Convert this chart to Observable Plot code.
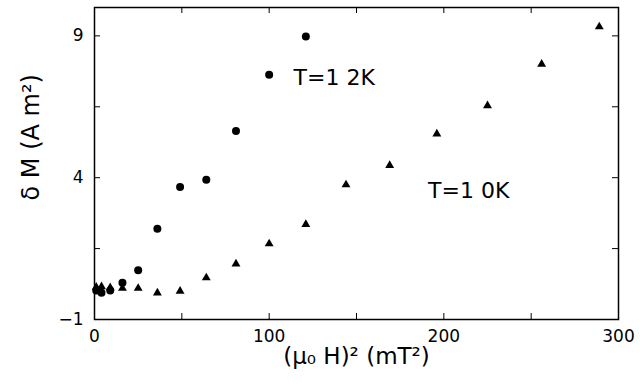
<!DOCTYPE html>
<html>
<head>
<meta charset="utf-8">
<script src="https://cdn.jsdelivr.net/npm/d3@7"></script>
<script src="https://cdn.jsdelivr.net/npm/@observablehq/plot@0.6"></script>
<style>
  html, body { margin: 0; padding: 0; background: #fff; }
  svg { display: block; }
</style>
</head>
<body>
<div id="chart"></div>
<script>
// T = 12 K series (circles)
const x12 = [1, 4, 9, 16, 25, 36, 49, 64, 81, 100, 121];
const y12 = [0.02, -0.06, 0.02, 0.3, 0.74, 2.2, 3.67, 3.93, 5.65, 7.63, 8.98];
// T = 10 K series (triangles)
const x10 = [1, 4, 9, 16, 25, 36, 49, 64, 81, 100, 121, 144, 169, 196, 225, 256, 289];
const y10 = [0.14, 0.16, 0.12, 0.1, 0.1, -0.06, 0.0, 0.47, 0.96, 1.67, 2.35, 3.75, 4.43, 5.54, 6.54, 8.0, 9.32];

// axis ticks
const xTicks = [0, 50, 100, 150, 200, 250, 300];
const xTickLabels = [0, 100, 200, 300];
const yTicks = [-1, 1.5, 4, 6.5, 9];
const yTickLabels = [-1, 4, 9];

// annotations (data coordinates)
const annoText = ["T=1 2K", "T=1 0K"];
const annoX = [114, 191];
const annoY = [7.52, 3.54];

const xLabel = "(μ₀ H)² (mT²)";
const yLabel = "δ M (A m²)";

const d12 = x12.map((x, i) => ({x, y: y12[i]}));
const d10 = x10.map((x, i) => ({x, y: y10[i]}));
const anno = annoText.map((t, i) => ({t, x: annoX[i], y: annoY[i]}));

const W = 642, H = 386;
const mL = 94, mR = 24, mT = 7, mB = 67;
const innerW = W - mL - mR, innerH = H - mT - mB;
const tl = 6;
const font = "'DejaVu Sans', 'Liberation Sans', sans-serif";

const chart = Plot.plot({
  width: W, height: H,
  marginLeft: mL, marginRight: mR, marginTop: mT, marginBottom: mB,
  style: {fontFamily: font, color: "black", background: "white"},
  x: {domain: [0, 300]},
  y: {domain: [-1, 10]},
  marks: [
    Plot.frame({stroke: "black", strokeWidth: 1.5}),
    Plot.tickX(xTicks, {x: d => d, insetTop: innerH - tl, stroke: "black", strokeWidth: 1}),
    Plot.tickX(xTicks, {x: d => d, insetBottom: innerH - tl, stroke: "black", strokeWidth: 1}),
    Plot.tickY(yTicks, {y: d => d, insetRight: innerW - tl, stroke: "black", strokeWidth: 1}),
    Plot.tickY(yTicks, {y: d => d, insetLeft: innerW - tl, stroke: "black", strokeWidth: 1}),
    Plot.axisX({ticks: xTickLabels, tickSize: 0, tickPadding: 10, fontSize: 17, label: null, tickFormat: d => String(d)}),
    Plot.axisY({ticks: yTickLabels, tickSize: 0, tickPadding: 11, fontSize: 17, label: null, tickFormat: d => d < 0 ? "−" + Math.abs(d) : String(d)}),
    Plot.dot(d10, {x: "x", y: "y", symbol: "triangle", r: 3.3, fill: "black", stroke: "none"}),
    Plot.dot(d12, {x: "x", y: "y", symbol: "circle", r: 4, fill: "black", stroke: "none"}),
    Plot.text(anno, {x: "x", y: "y", text: "t", textAnchor: "start", fontSize: 22, fill: "black"}),
    Plot.text([xLabel], {frameAnchor: "bottom", dy: 37, fontSize: 23, fill: "black", lineAnchor: "middle"}),
    Plot.text([yLabel], {frameAnchor: "left", dx: -63, dy: 37, rotate: -90, fontSize: 24, fill: "black"})
  ]
});
document.getElementById("chart").appendChild(chart);
</script>
</body>
</html>
